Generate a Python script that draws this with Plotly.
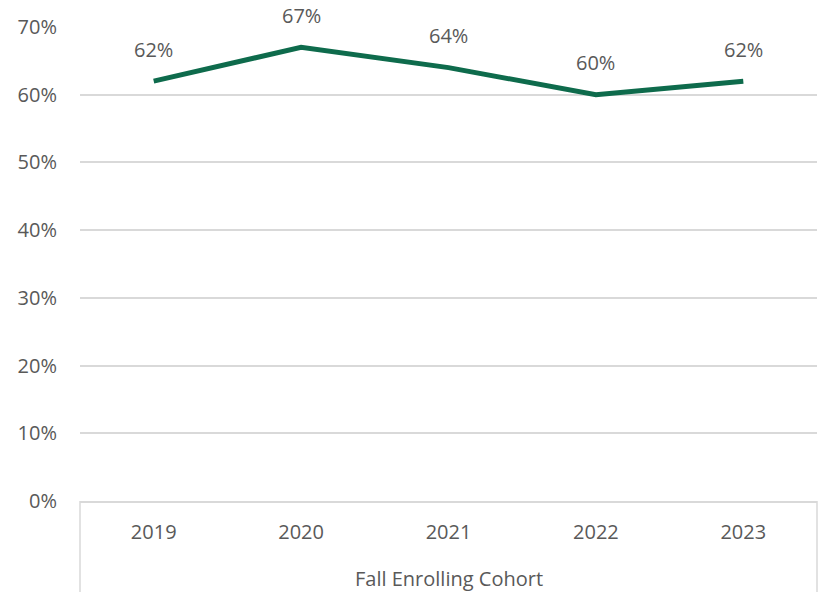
import plotly.graph_objects as go

# Share of each fall enrolling cohort
cohorts = ["2019", "2020", "2021", "2022", "2023"]
rates = [0.62, 0.67, 0.64, 0.60, 0.62]
y_ticks = [0, 0.1, 0.2, 0.3, 0.4, 0.5, 0.6, 0.7]
y_tick_labels = ["0%", "10%", "20%", "30%", "40%", "50%", "60%", "70%"]
x_title = "Fall Enrolling Cohort"

FONT = "Open Sans"
TEXT = "#595959"
GRID = "#D9D9D9"
LINE = "#0E6B4C"
FS = 20

fig = go.Figure()
fig.add_trace(go.Scatter(
    x=cohorts, y=rates, mode="lines",
    line=dict(color=LINE, width=5),
    hoverinfo="skip",
))

# Value labels above each point (x given as category index)
for i, v in enumerate(rates):
    fig.add_annotation(
        x=i, y=v, xref="x", yref="y", text=f"{round(v * 100)}%",
        showarrow=False, yshift=32, yanchor="middle",
        font=dict(family=FONT, size=FS, color=TEXT),
    )

# Axis title below the category labels
fig.add_annotation(
    x=0.5, y=-77 / 474, xref="paper", yref="paper", text=x_title,
    showarrow=False, yanchor="middle",
    font=dict(family=FONT, size=FS, color=TEXT),
)

# Outer divider lines of the category axis
for xp in (0, 1):
    fig.add_shape(type="line", xref="paper", yref="paper",
                  x0=xp, x1=xp, y0=0, y1=-0.25,
                  line=dict(color=GRID, width=1.5))

fig.update_layout(
    width=823, height=592,
    margin=dict(l=80, r=6, t=27, b=91),
    paper_bgcolor="white", plot_bgcolor="white",
    showlegend=False,
    font=dict(family=FONT, size=FS, color=TEXT),
)
fig.update_xaxes(
    type="category", range=[-0.5, 4.5],
    showgrid=False, showline=True, linecolor=GRID, linewidth=1.5,
    ticks="", ticklabelstandoff=12,
    tickfont=dict(family=FONT, size=FS, color=TEXT),
)
fig.update_yaxes(
    range=[0, 0.7], tickvals=y_ticks, ticktext=y_tick_labels,
    showgrid=True, gridcolor=GRID, gridwidth=1.5,
    zeroline=False, showline=False, ticks="",
    ticklabelstandoff=22,
    tickfont=dict(family=FONT, size=FS, color=TEXT),
)

fig.write_html("out.html")
